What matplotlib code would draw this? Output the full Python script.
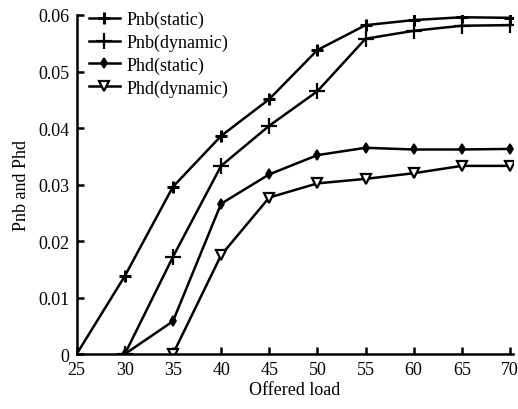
import numpy as np
import matplotlib.pyplot as plt

plt.rcParams['font.family'] = ['Liberation Serif', 'DejaVu Serif']
plt.rcParams['font.size'] = 13

load = [25, 30, 35, 40, 45, 50, 55, 60, 65, 70]
pnb_static = [0.0, 0.0138, 0.0296, 0.0386, 0.0451, 0.0538, 0.0582, 0.0591, 0.0596, 0.0595]
pnb_dynamic_x = [30, 35, 40, 45, 50, 55, 60, 65, 70]
pnb_dynamic = [0.0, 0.0172, 0.0333, 0.0404, 0.0465, 0.0558, 0.0572, 0.0581, 0.0582]
phd_static_x = [30, 35, 40, 45, 50, 55, 60, 65, 70]
phd_static = [0.0, 0.0058, 0.0266, 0.0318, 0.0352, 0.0365, 0.0362, 0.0362, 0.0363]
phd_dynamic_x = [35, 40, 45, 50, 55, 60, 65, 70]
phd_dynamic = [0.0, 0.0175, 0.0277, 0.0302, 0.0310, 0.0320, 0.0333, 0.0333]

yticks = [0, 0.01, 0.02, 0.03, 0.04, 0.05, 0.06]
ytick_labels = ['0', '0.01', '0.02', '0.03', '0.04', '0.05', '0.06']

fig = plt.figure(figsize=(5.18, 4.10), dpi=100)
ax = fig.add_axes([0.148, 0.134, 0.842, 0.827])

lw = 1.8
ax.plot(load, pnb_static, 'k-', marker='+', ms=8, mew=2.2, lw=lw, label='Pnb(static)')
ax.plot(pnb_dynamic_x, pnb_dynamic, 'k-', marker='+', ms=11, mew=1.6, lw=lw, label='Pnb(dynamic)')
ax.plot(phd_static_x, phd_static, 'k-', marker='d', ms=5, mew=1.2, lw=lw, label='Phd(static)')
ax.plot(phd_dynamic_x, phd_dynamic, 'k-', marker='v', ms=7, mfc='white', mew=1.6, lw=lw, label='Phd(dynamic)')

ax.set_xlim(25, 70.3)
ax.set_ylim(0, 0.06)
ax.set_xticks(load)
ax.set_yticks(yticks)
ax.set_yticklabels(ytick_labels)
ax.spines['top'].set_visible(False)
ax.spines['right'].set_visible(False)
ax.spines['left'].set_linewidth(1.8)
ax.spines['bottom'].set_linewidth(1.8)
ax.tick_params(direction='in', length=5, width=1.8, pad=5)

ax.set_xlabel('Offered load', labelpad=2)
ax.set_ylabel('Pnb and Phd', labelpad=6)

ax.legend(loc='upper left', bbox_to_anchor=(0.168, 0.975), bbox_transform=fig.transFigure,
          frameon=False, handlelength=1.7, handletextpad=0.4, labelspacing=0.3,
          borderaxespad=0.0, borderpad=0.1)

fig.savefig('out.png', dpi=100)
